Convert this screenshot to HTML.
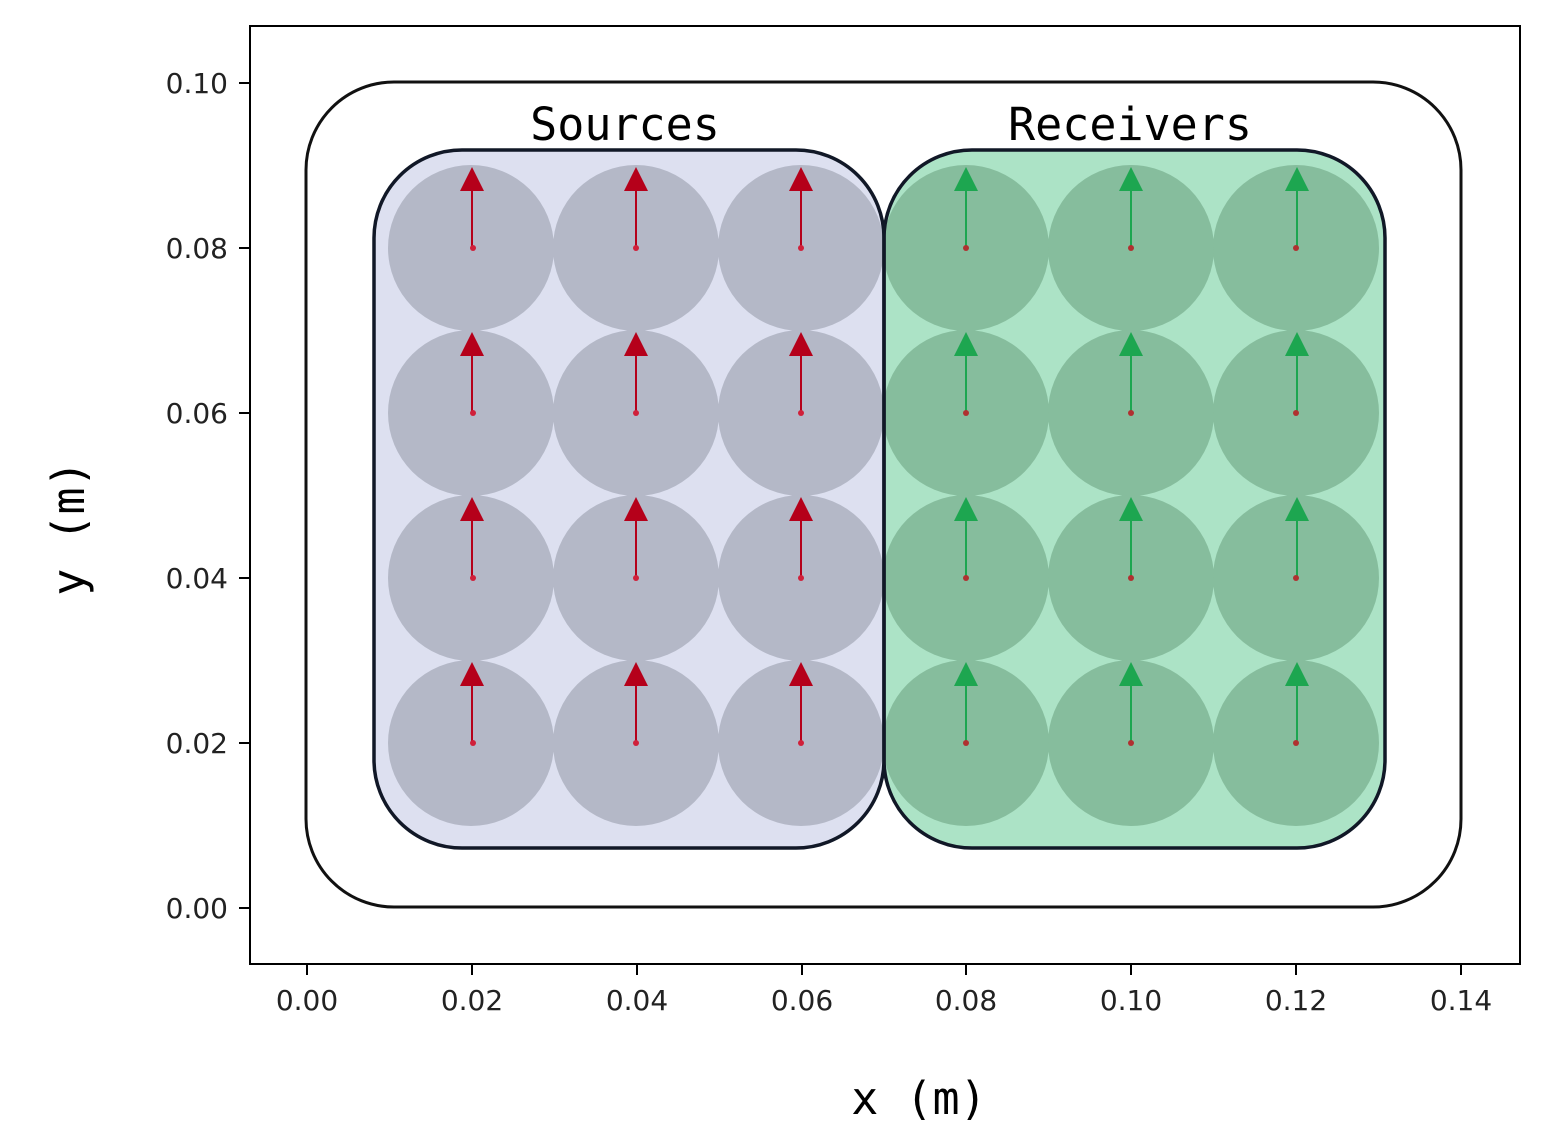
<!DOCTYPE html>
<html><head><meta charset="utf-8"><style>html,body{margin:0;padding:0;background:#fff}svg{display:block}</style></head>
<body>
<svg width="1554" height="1138" viewBox="0 0 1554 1138" xmlns="http://www.w3.org/2000/svg">
<rect width="1554" height="1138" fill="#fff"/>
<defs>
<clipPath id="cs"><rect x="374" y="150" width="510" height="698" rx="88"/></clipPath>
<clipPath id="cr"><rect x="884" y="150" width="501" height="698" rx="88"/></clipPath>
</defs>
<rect x="306" y="82" width="1155" height="825" rx="88" fill="none" stroke="#111" stroke-width="3"/>
<rect x="374" y="150" width="510" height="698" rx="88" fill="#dde0f0"/>
<g clip-path="url(#cs)" fill="#b4b8c7">
<circle cx="471" cy="248" r="83"/><circle cx="636" cy="248" r="83"/><circle cx="801" cy="248" r="83"/>
<circle cx="471" cy="413" r="83"/><circle cx="636" cy="413" r="83"/><circle cx="801" cy="413" r="83"/>
<circle cx="471" cy="578" r="83"/><circle cx="636" cy="578" r="83"/><circle cx="801" cy="578" r="83"/>
<circle cx="471" cy="743" r="83"/><circle cx="636" cy="743" r="83"/><circle cx="801" cy="743" r="83"/>
</g>
<rect x="884" y="150" width="501" height="698" rx="88" fill="#ace3c6"/>
<g clip-path="url(#cr)" fill="#86bd9d">
<circle cx="966" cy="248" r="83"/><circle cx="1131" cy="248" r="83"/><circle cx="1296" cy="248" r="83"/>
<circle cx="966" cy="413" r="83"/><circle cx="1131" cy="413" r="83"/><circle cx="1296" cy="413" r="83"/>
<circle cx="966" cy="578" r="83"/><circle cx="1131" cy="578" r="83"/><circle cx="1296" cy="578" r="83"/>
<circle cx="966" cy="743" r="83"/><circle cx="1131" cy="743" r="83"/><circle cx="1296" cy="743" r="83"/>
</g>
<rect x="374" y="150" width="510" height="698" rx="88" fill="none" stroke="#111827" stroke-width="3.5"/>
<rect x="884" y="150" width="501" height="698" rx="88" fill="none" stroke="#111827" stroke-width="3.5"/>
<g stroke-width="2">
<g stroke="#b5001a" fill="#b5001a">
<path d="M472 248V190M636 248V190M801 248V190M472 413V355M636 413V355M801 413V355M472 578V520M636 578V520M801 578V520M472 743V685M636 743V685M801 743V685"/>
<g stroke="none">
<path d="M472 167l-12 24h24z"/><path d="M636 167l-12 24h24z"/><path d="M801 167l-12 24h24z"/>
<path d="M472 332l-12 24h24z"/><path d="M636 332l-12 24h24z"/><path d="M801 332l-12 24h24z"/>
<path d="M472 497l-12 24h24z"/><path d="M636 497l-12 24h24z"/><path d="M801 497l-12 24h24z"/>
<path d="M472 662l-12 24h24z"/><path d="M636 662l-12 24h24z"/><path d="M801 662l-12 24h24z"/>
</g></g>
<g stroke="#1da650" fill="#1da650">
<path d="M966 248V190M1131 248V190M1297 248V190M966 413V355M1131 413V355M1297 413V355M966 578V520M1131 578V520M1297 578V520M966 743V685M1131 743V685M1297 743V685"/>
<g stroke="none">
<path d="M966 167l-12 24h24z"/><path d="M1131 167l-12 24h24z"/><path d="M1297 167l-12 24h24z"/>
<path d="M966 332l-12 24h24z"/><path d="M1131 332l-12 24h24z"/><path d="M1297 332l-12 24h24z"/>
<path d="M966 497l-12 24h24z"/><path d="M1131 497l-12 24h24z"/><path d="M1297 497l-12 24h24z"/>
<path d="M966 662l-12 24h24z"/><path d="M1131 662l-12 24h24z"/><path d="M1297 662l-12 24h24z"/>
</g></g>
</g>
<g fill="#d0203a">
<circle cx="473" cy="248" r="3"/><circle cx="636" cy="248" r="3"/><circle cx="801" cy="248" r="3"/>
<circle cx="473" cy="413" r="3"/><circle cx="636" cy="413" r="3"/><circle cx="801" cy="413" r="3"/>
<circle cx="473" cy="578" r="3"/><circle cx="636" cy="578" r="3"/><circle cx="801" cy="578" r="3"/>
<circle cx="473" cy="743" r="3"/><circle cx="636" cy="743" r="3"/><circle cx="801" cy="743" r="3"/>
</g>
<g fill="#b03030">
<circle cx="966" cy="248" r="3"/><circle cx="1131" cy="248" r="3"/><circle cx="1296" cy="248" r="3"/>
<circle cx="966" cy="413" r="3"/><circle cx="1131" cy="413" r="3"/><circle cx="1296" cy="413" r="3"/>
<circle cx="966" cy="578" r="3"/><circle cx="1131" cy="578" r="3"/><circle cx="1296" cy="578" r="3"/>
<circle cx="966" cy="743" r="3"/><circle cx="1131" cy="743" r="3"/><circle cx="1296" cy="743" r="3"/>
</g>
<g font-family="DejaVu Sans Mono, Liberation Mono, monospace" font-size="45" fill="#000" text-anchor="middle">
<text x="625" y="140">Sources</text>
<text x="1130" y="140">Receivers</text>
<text x="919" y="1114">x (m)</text>
<text transform="translate(84,528) rotate(-90)">y (m)</text>
</g>
<rect x="250" y="26" width="1270" height="938" fill="none" stroke="#000" stroke-width="2"/>
<g stroke="#000" stroke-width="2">
<path d="M307 964v11M472 964v11M637 964v11M802 964v11M966 964v11M1131 964v11M1296 964v11M1461 964v11"/>
<path d="M250 908h-11M250 743h-11M250 578h-11M250 413h-11M250 248h-11M250 83h-11"/>
</g>
<g font-family="DejaVu Sans, Liberation Sans, sans-serif" font-size="28" fill="#222">
<g text-anchor="middle">
<text x="307" y="1010">0.00</text><text x="472" y="1010">0.02</text><text x="637" y="1010">0.04</text><text x="802" y="1010">0.06</text>
<text x="966" y="1010">0.08</text><text x="1131" y="1010">0.10</text><text x="1296" y="1010">0.12</text><text x="1461" y="1010">0.14</text>
</g>
<g text-anchor="end">
<text x="228" y="918">0.00</text><text x="228" y="753">0.02</text><text x="228" y="588">0.04</text>
<text x="228" y="423">0.06</text><text x="228" y="258">0.08</text><text x="228" y="93">0.10</text>
</g>
</g>
</svg>
</body></html>
